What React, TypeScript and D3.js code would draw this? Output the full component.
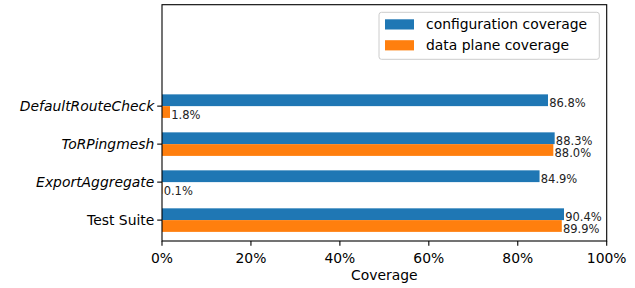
import React from 'react';
import * as d3 from 'd3';

// categories listed bottom to top, as drawn on the y axis
const categories = ['Test Suite', 'ExportAggregate', 'ToRPingmesh', 'DefaultRouteCheck'];
const italicCats = ['ExportAggregate', 'ToRPingmesh', 'DefaultRouteCheck'];
const configCoverage = [90.4, 84.9, 88.3, 86.8];
const dataPlaneCoverage = [89.9, 0.1, 88.0, 1.8];
const xTicks = [0, 20, 40, 60, 80, 100];
const seriesNames = ['configuration coverage', 'data plane coverage'];
const colors = ['#1f77b4', '#ff7f0e'];

const W = 635;
const H = 288;
const FONT = '"DejaVu Sans", sans-serif';

const App: React.FC = () => {
  const left = 162;
  const right = 606.7;
  const top = 4.7;
  const bottom = 241;
  const barH = 0.31;

  const x = d3.scaleLinear().domain([0, 100]).range([left, right]);
  const y = d3.scaleLinear().domain([-0.55, 5.67]).range([bottom, top]);

  const bars: { v: number; i: number; s: number }[] = [];
  categories.forEach((_, i) => {
    bars.push({ v: configCoverage[i], i, s: 0 });
    bars.push({ v: dataPlaneCoverage[i], i, s: 1 });
  });

  return (
    <svg
      width={W}
      height={H}
      style={{ position: 'absolute', left: 0, top: 0, background: '#fff' }}
      fontFamily={FONT}
    >
      {/* bars */}
      {bars.map((b, k) => {
        const y0 = b.s === 0 ? y(b.i + barH) : y(b.i);
        const y1 = b.s === 0 ? y(b.i) : y(b.i - barH);
        return (
          <g key={k}>
            <rect
              x={x(0)}
              y={y0}
              width={x(b.v) - x(0)}
              height={y1 - y0}
              fill={colors[b.s]}
            />
            <text x={x(b.v) + 1.2} y={y1 + 0.8} fontSize={11.5} fill="#222">
              {b.v.toFixed(1)}%
            </text>
          </g>
        );
      })}

      {/* spines */}
      <rect x={left} y={top} width={right - left} height={bottom - top} fill="none" stroke="#000" strokeWidth={1.1} />

      {/* x ticks */}
      {xTicks.map(t => (
        <g key={t}>
          <line x1={x(t)} x2={x(t)} y1={bottom} y2={bottom + 4.8} stroke="#000" strokeWidth={1.1} />
          <text x={x(t)} y={263.3} textAnchor="middle" fontSize={13.9} fill="#000">
            {t}%
          </text>
        </g>
      ))}
      <text x={(left + right) / 2} y={280.3} textAnchor="middle" fontSize={13.9} fill="#000">
        Coverage
      </text>

      {/* y ticks */}
      {categories.map((c, i) => (
        <g key={c}>
          <line x1={left - 4.8} x2={left} y1={y(i)} y2={y(i)} stroke="#000" strokeWidth={1.1} />
          <text
            x={left - 7.7}
            y={y(i)}
            dy="0.36em"
            textAnchor="end"
            fontSize={13.9}
            fontStyle={italicCats.includes(c) ? 'italic' : 'normal'}
            fill="#000"
          >
            {c}
          </text>
        </g>
      ))}

      {/* legend */}
      <rect x={379} y={12.3} width={220.3} height={47} rx={2.5} fill="#fff" fillOpacity={0.8} stroke="#ccc" strokeWidth={1} />
      {seriesNames.map((n, k) => (
        <g key={n}>
          <rect x={385} y={19.3 + k * 20.9} width={29} height={10.2} fill={colors[k]} />
          <text x={426} y={29.4 + k * 20.9} fontSize={13.9} fill="#000">
            {n}
          </text>
        </g>
      ))}
    </svg>
  );
};

export default App;
